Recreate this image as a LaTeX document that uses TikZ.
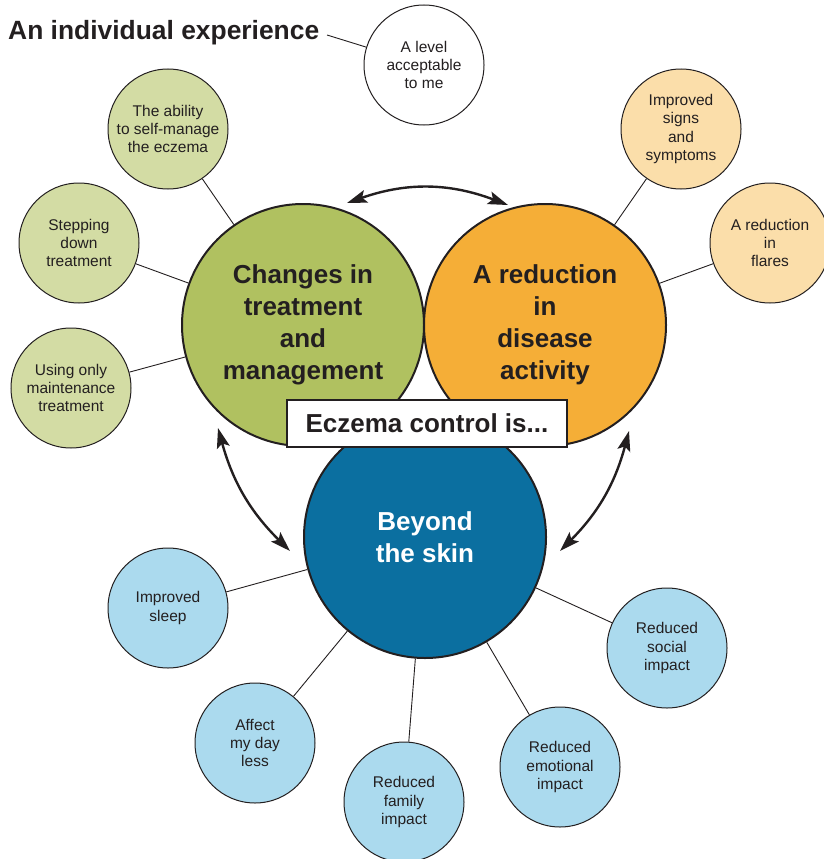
\documentclass[tikz,border=0pt]{standalone}
\usepackage{fontspec}
\setmainfont{Liberation Sans}
\usetikzlibrary{arrows.meta}
\definecolor{ink}{RGB}{35,31,32}
\definecolor{gmain}{RGB}{176,193,96}
\definecolor{gsmall}{RGB}{211,220,164}
\definecolor{omain}{RGB}{245,174,55}
\definecolor{osmall}{RGB}{251,222,170}
\definecolor{bmain}{RGB}{11,111,160}
\definecolor{bsmall}{RGB}{171,218,238}
\begin{document}
\begin{tikzpicture}[x=1pt,y=-1pt,
  small/.style={circle, draw=ink, line width=1pt, minimum size=120pt, inner sep=0pt, align=center, font=\fontsize{15.5}{18.3}\selectfont, text=ink},
  big/.style={circle, draw=ink, line width=2pt, minimum size=242pt, inner sep=0pt, align=center, font=\bfseries\fontsize{26}{32}\selectfont, text=ink},
  link/.style={draw=ink, line width=0.9pt},
  dbl/.style={draw=ink, line width=2.4pt, {Stealth[length=20pt,width=13pt,inset=4pt]}-{Stealth[length=20pt,width=13pt,inset=4pt]}}]
\useasboundingbox (0,0) rectangle (824,859);

% main circles
\node[big, fill=gmain] (green) at (303,325) {Changes in\\treatment\\and\\management};
\node[big, fill=omain] (orange) at (545,325) {A reduction\\in\\disease\\activity};
\node[big, fill=bmain, text=white] (blue) at (425,537) {Beyond\\the skin};

% small circles
\node[small, fill=white] (alevel) at (424,65) {A level\\acceptable\\to me};
\node[small, fill=gsmall] (ability) at (168,129) {The ability\\to self-manage\\the eczema};
\node[small, fill=gsmall] (stepping) at (79,243) {Stepping\\down\\treatment};
\node[small, fill=gsmall] (maint) at (71,388) {Using only\\maintenance\\treatment};
\node[small, fill=osmall] (signs) at (681,129) {Improved\\signs\\and\\symptoms};
\node[small, fill=osmall] (flares) at (770,243) {A reduction\\in\\flares};
\node[small, fill=bsmall] (sleep) at (168,608) {Improved\\sleep};
\node[small, fill=bsmall] (affect) at (255,743) {Affect\\my day\\less};
\node[small, fill=bsmall] (family) at (404,802) {Reduced\\family\\impact};
\node[small, fill=bsmall] (emotional) at (560,767) {Reduced\\emotional\\impact};
\node[small, fill=bsmall] (social) at (667,648) {Reduced\\social\\impact};

% connectors
\draw[link] (ability) -- (green);
\draw[link] (stepping) -- (green);
\draw[link] (maint) -- (green);
\draw[link] (signs) -- (orange);
\draw[link] (flares) -- (orange);
\draw[link] (sleep) -- (blue);
\draw[link] (affect) -- (blue);
\draw[link] (family) -- (blue);
\draw[link] (emotional) -- (blue);
\draw[link] (social) -- (blue);

% title
\node[anchor=base west, inner sep=0pt, font=\bfseries\fontsize{26.4}{30}\selectfont, text=ink] (title) at (8,40) {An individual experience};
\coordinate (tl) at (327,35);
\draw[link] (tl) -- (alevel);

% central label
\node[draw=ink, line width=1.5pt, fill=white, minimum width=280pt, minimum height=47pt, inner sep=0pt, font=\bfseries\fontsize{26}{32}\selectfont, text=ink] (ecz) at (427,423.5) {Eczema control is...};

% arrows
\coordinate (t1) at (347,203);
\coordinate (t2) at (508,205);
\coordinate (l1) at (218,428);
\coordinate (l2) at (290,551);
\coordinate (r1) at (629,431);
\coordinate (r2) at (560,551);
\draw[dbl] (t1) to[bend left=20] (t2);
\draw[dbl] (l1) to[bend right=15] (l2);
\draw[dbl] (r1) to[bend left=15] (r2);
\end{tikzpicture}
\end{document}
